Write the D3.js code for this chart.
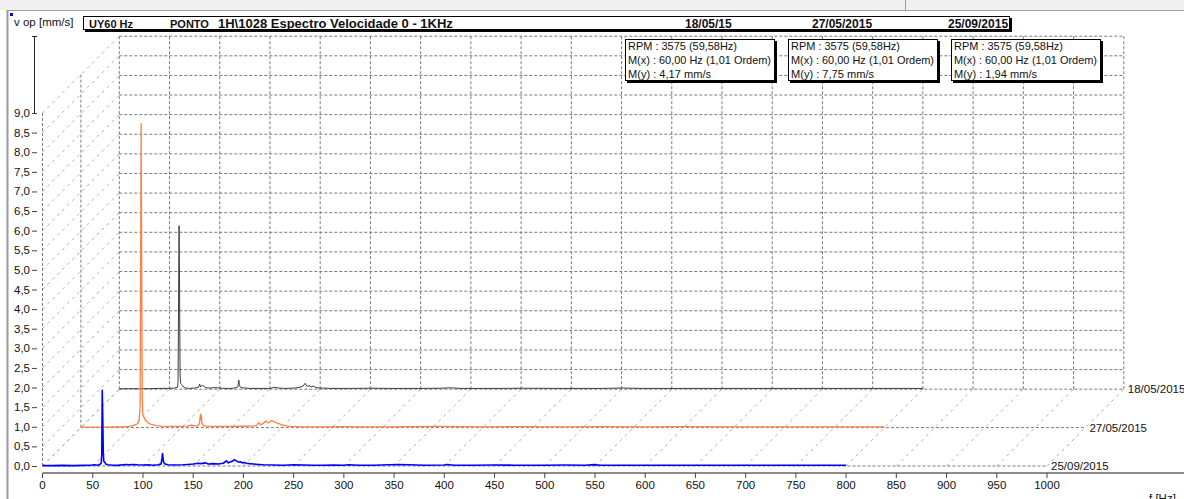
<!DOCTYPE html>
<meta charset="utf-8">
<head>
  <title>Espectro Velocidade 0 - 1KHz</title>
  <style>
    body { margin: 0; background: #fff; }
    svg text { font-family: "Liberation Sans", Arial, sans-serif; fill: #111; }
  </style>
</head>
<body>

  <!-- Load d3.js -->
  <script src="https://d3js.org/d3.v7.min.js"></script>
  <div id="my_dataviz"></div>

  <script>

    // ---- data (back to front) ----
    var dates = ["18/05/2015", "27/05/2015", "25/09/2015"];
    var colors = ["#3c3c3c", "#ff8040", "#0000ff"];
    var widths = [1, 1.3, 1.6];
    var xTicks = d3.range(0, 1001, 50);
    var yTicks = d3.range(0, 9.01, 0.5);

    // spectra: [Hz, mm/s]
    var spec18_05 = [[0,0.01],[10,0.015],[20,0.01],[30,0.015],[40,0.02],[50,0.02],[55,0.03],[58,0.05],[58.5,0.2],[59,2.27],[59.5,4.17],[60,2.55],[60.5,0.4],[61,0.15],[62,0.12],[63,0.1],[64,0.05],[66,0.03],[70,0.02],[75,0.03],[79,0.05],[80,0.13],[81,0.06],[83,0.1],[86,0.04],[90,0.03],[95,0.04],[100,0.03],[105,0.02],[110,0.02],[115,0.03],[118,0.06],[119,0.23],[119.5,0.12],[120,0.08],[121,0.04],[125,0.03],[130,0.02],[140,0.02],[150,0.02],[155,0.05],[158,0.03],[165,0.02],[175,0.03],[180,0.05],[183,0.08],[185,0.15],[187,0.07],[189,0.09],[191,0.06],[193,0.08],[196,0.04],[200,0.03],[210,0.02],[230,0.02],[250,0.025],[270,0.02],[300,0.02],[320,0.025],[330,0.035],[340,0.02],[380,0.02],[400,0.025],[440,0.02],[480,0.02],[500,0.03],[520,0.02],[560,0.02],[600,0.02],[650,0.02],[700,0.02],[750,0.02],[800,0.02]];

    var spec27_05 = [[0,0.01],[10,0.01],[20,0.01],[30,0.015],[40,0.02],[48,0.03],[52,0.05],[55,0.08],[57,0.12],[58,0.18],[59,0.6],[59.5,4.66],[60,7.75],[60.5,4.0],[61,0.9],[61.5,0.35],[62.5,0.28],[64,0.2],[66,0.14],[68,0.1],[70,0.08],[75,0.05],[80,0.04],[90,0.03],[100,0.03],[105,0.04],[110,0.06],[113,0.05],[116,0.04],[118,0.1],[119,0.34],[119.5,0.2],[120,0.3],[120.5,0.1],[122,0.05],[125,0.04],[130,0.03],[140,0.03],[150,0.03],[160,0.035],[170,0.04],[175,0.05],[177,0.13],[179,0.07],[181,0.1],[184,0.17],[186,0.12],[188,0.14],[190,0.18],[192,0.15],[194,0.13],[197,0.1],[200,0.07],[203,0.05],[206,0.04],[210,0.03],[220,0.02],[240,0.02],[260,0.025],[280,0.02],[300,0.02],[330,0.025],[360,0.03],[380,0.025],[400,0.02],[440,0.025],[480,0.02],[520,0.025],[560,0.02],[600,0.025],[650,0.02],[700,0.02],[750,0.02],[800,0.02]];

    var spec25_09 = [[0,0.01],[10,0.01],[20,0.015],[30,0.01],[40,0.015],[48,0.02],[52,0.03],[55,0.02],[57,0.04],[58.5,0.08],[59,0.3],[59.5,1.93],[60,1.2],[60.5,0.35],[61,0.12],[62,0.1],[63,0.05],[65,0.03],[70,0.02],[75,0.015],[80,0.03],[83,0.04],[86,0.03],[90,0.04],[95,0.03],[100,0.025],[105,0.03],[110,0.02],[115,0.03],[118,0.05],[119,0.2],[119.5,0.32],[120,0.2],[120.5,0.1],[121,0.08],[122,0.05],[125,0.03],[130,0.025],[140,0.03],[145,0.04],[150,0.05],[155,0.07],[158,0.06],[162,0.08],[165,0.05],[170,0.06],[175,0.05],[180,0.07],[183,0.13],[185,0.08],[187,0.1],[189,0.12],[191,0.16],[193,0.13],[195,0.1],[197,0.11],[199,0.08],[201,0.09],[203,0.07],[206,0.06],[210,0.05],[215,0.04],[220,0.03],[230,0.025],[240,0.02],[250,0.03],[260,0.025],[270,0.02],[280,0.02],[290,0.025],[300,0.02],[305,0.03],[315,0.02],[330,0.02],[345,0.03],[355,0.035],[365,0.03],[380,0.02],[400,0.025],[403,0.04],[410,0.02],[430,0.02],[450,0.025],[470,0.02],[500,0.02],[520,0.025],[540,0.02],[550,0.035],[555,0.02],[600,0.02],[650,0.02],[700,0.02],[750,0.02],[800,0.02]];

    var spectra = [spec18_05, spec27_05, spec25_09];

    var boxTexts = [
      ["RPM : 3575 (59,58Hz)", "M(x) : 60,00 Hz (1,01 Ordem)", "M(y) : 4,17 mm/s"],
      ["RPM : 3575 (59,58Hz)", "M(x) : 60,00 Hz (1,01 Ordem)", "M(y) : 7,75 mm/s"],
      ["RPM : 3575 (59,58Hz)", "M(x) : 60,00 Hz (1,01 Ordem)", "M(y) : 1,94 mm/s"]
    ];
    var boxLineWidths = [109, 143, 83];

    // ---- layout ----
    var W = 1184, H = 499;
    var depth = 38.4;          // 3D offset between measurements (px right and up)

    var svg = d3.select("#my_dataviz")
      .append("svg")
        .attr("width", W)
        .attr("height", H);

    var x = d3.scaleLinear().domain([0, 1000]).range([42.5, 1047]);
    var y = d3.scaleLinear().domain([0, 9]).range([466, 113]);

    // offset for plane i (0 = back, 2 = front)
    function off(i) { return (2 - i) * depth; }

    // window frame
    svg.append("rect").attr("x", 0).attr("y", 0).attr("width", W).attr("height", 10).attr("fill", "#f0f0f0");
    svg.append("line").attr("x1", 905.5).attr("x2", 905.5).attr("y1", 0).attr("y2", 10).attr("stroke", "#999");
    svg.append("line").attr("x1", 7).attr("x2", W).attr("y1", 10.5).attr("y2", 10.5).attr("stroke", "#a0a0a0");
    svg.append("line").attr("x1", 7.5).attr("x2", 7.5).attr("y1", 10).attr("y2", H).attr("stroke", "#9a9a9a").attr("stroke-width", 2);
    svg.append("rect").attr("x", 10).attr("y", 13).attr("width", 3).attr("height", 3).attr("fill", "#0000ff");

    var grid = svg.append("g");

    // floor diagonals (one per x tick)
    grid.selectAll(".floor")
      .data(xTicks)
      .enter().append("line")
        .attr("x1", function(d) { return x(d); })
        .attr("y1", y(0))
        .attr("x2", function(d) { return x(d) + 2 * depth; })
        .attr("y2", y(0) - 2 * depth)
        .attr("stroke", "#b0b0b0")
        .attr("stroke-dasharray", "3,4");

    // left wall diagonals (one per y tick)
    grid.selectAll(".wall")
      .data(yTicks)
      .enter().append("line")
        .attr("x1", x(0))
        .attr("y1", function(d) { return y(d); })
        .attr("x2", x(0) + 2 * depth)
        .attr("y2", function(d) { return y(d) - 2 * depth; })
        .attr("stroke", "#b0b0b0")
        .attr("stroke-dasharray", "3,4");

    // back plane grid
    var bx = 2 * depth;
    grid.selectAll(".bh")
      .data(yTicks)
      .enter().append("line")
        .attr("x1", x(0) + bx).attr("x2", x(1000) + bx)
        .attr("y1", function(d) { return y(d) - bx; })
        .attr("y2", function(d) { return y(d) - bx; })
        .attr("stroke", "#7a7a7a")
        .attr("stroke-dasharray", "3,2");
    grid.selectAll(".bv")
      .data(xTicks)
      .enter().append("line")
        .attr("x1", function(d) { return x(d) + bx; })
        .attr("x2", function(d) { return x(d) + bx; })
        .attr("y1", y(0) - bx).attr("y2", y(9) - bx)
        .attr("stroke", "#7a7a7a")
        .attr("stroke-dasharray", "3,2");

    // left edges of front and middle planes
    [0, depth].forEach(function(o) {
      grid.append("line")
        .attr("x1", x(0) + o).attr("x2", x(0) + o)
        .attr("y1", y(0) - o).attr("y2", y(9) - o)
        .attr("stroke", "#7a7a7a")
        .attr("stroke-dasharray", "3,2");
    });

    // spectra, back to front
    var line = d3.line();
    dates.forEach(function(date, i) {
      var o = off(i);
      if (i > 0) {
        svg.append("line")
          .attr("x1", x(0) + o).attr("x2", x(1000) + o)
          .attr("y1", y(0) - o).attr("y2", y(0) - o)
          .attr("stroke", "#7a7a7a")
          .attr("stroke-dasharray", "3,2");
      }
      svg.append("path")
        .attr("d", line(spectra[i].map(function(p) { return [x(p[0]) + o, y(p[1]) - o]; })))
        .attr("fill", "none")
        .attr("stroke", colors[i])
        .attr("stroke-width", widths[i])
        .attr("stroke-linejoin", "round");
      svg.append("text")
        .attr("x", x(1000) + o + 4)
        .attr("y", y(0) - o + 4)
        .attr("font-size", "11.5px")
        .text(date);
    });

    // Y axis
    var yAxis = svg.append("g");
    yAxis.append("line").attr("x1", 34.5).attr("x2", 34.5).attr("y1", 36.5).attr("y2", y(9)).attr("stroke", "#222");
    yAxis.append("line").attr("x1", 32).attr("x2", 37).attr("y1", 36.5).attr("y2", 36.5).attr("stroke", "#222");
    yAxis.selectAll(".yt")
      .data(yTicks)
      .enter().append("line")
        .attr("x1", 32).attr("x2", 37)
        .attr("y1", function(d) { return y(d) + 0.5; })
        .attr("y2", function(d) { return y(d) + 0.5; })
        .attr("stroke", "#444");
    yAxis.selectAll(".yl")
      .data(yTicks)
      .enter().append("text")
        .attr("x", 30)
        .attr("y", function(d) { return y(d) + 4; })
        .attr("text-anchor", "end")
        .attr("font-size", "11.5px")
        .text(function(d) { return d.toFixed(1).replace(".", ","); });

    // X axis
    var xAxis = svg.append("g");
    xAxis.append("line").attr("x1", x(0)).attr("x2", W).attr("y1", 473).attr("y2", 473).attr("stroke", "#666").attr("stroke-width", 1.5);
    xAxis.selectAll(".xt")
      .data(xTicks)
      .enter().append("line")
        .attr("x1", function(d) { return x(d); })
        .attr("x2", function(d) { return x(d); })
        .attr("y1", 473).attr("y2", 478)
        .attr("stroke", "#444");
    xAxis.selectAll(".xl")
      .data(xTicks)
      .enter().append("text")
        .attr("x", function(d) { return x(d); })
        .attr("y", 488.5)
        .attr("text-anchor", "middle")
        .attr("font-size", "11.5px")
        .text(function(d) { return d; });
    svg.append("text").attr("x", 1149).attr("y", 502).attr("font-size", "11.5px").text("f [Hz]");

    // axis title
    svg.append("text").attr("x", 14).attr("y", 26).attr("font-size", "11.5px").text("v op [mm/s]");

    // header box
    var hb = svg.append("g");
    hb.append("rect").attr("x", 85).attr("y", 18).attr("width", 927).attr("height", 14).attr("fill", "#000");
    hb.append("rect").attr("x", 83.5).attr("y", 16.5).attr("width", 926).attr("height", 13).attr("fill", "#fff").attr("stroke", "#000");
    var hdr = [[89, "UY60 Hz", 11], [170, "PONTO", 11], [218, "1H\\1028 Espectro Velocidade 0 - 1KHz", 13],
               [685, "18/05/15", 12], [812, "27/05/2015", 12], [948, "25/09/2015", 12]];
    hb.selectAll("text")
      .data(hdr)
      .enter().append("text")
        .attr("x", function(d) { return d[0]; })
        .attr("y", 27.5)
        .attr("font-weight", "bold")
        .attr("font-size", function(d) { return d[2] + "px"; })
        .text(function(d) { return d[1]; });

    // marker boxes
    var boxX = [625, 788, 951];
    boxTexts.forEach(function(lines, i) {
      var g = svg.append("g").attr("transform", "translate(" + boxX[i] + ",39)");
      g.append("rect").attr("x", 2).attr("y", 2).attr("width", 150).attr("height", 42).attr("fill", "#000");
      g.append("rect").attr("x", 0.5).attr("y", 0.5).attr("width", 149).attr("height", 41).attr("fill", "#fff").attr("stroke", "#000");
      g.selectAll("text")
        .data(lines)
        .enter().append("text")
          .attr("x", 3)
          .attr("y", function(d, j) { return 11 + j * 14; })
          .attr("font-size", "11.5px")
          .attr("textLength", function(d, j) { return boxLineWidths[j]; })
          .attr("lengthAdjust", "spacingAndGlyphs")
          .text(function(d) { return d; });
    });

  </script>
</body>
